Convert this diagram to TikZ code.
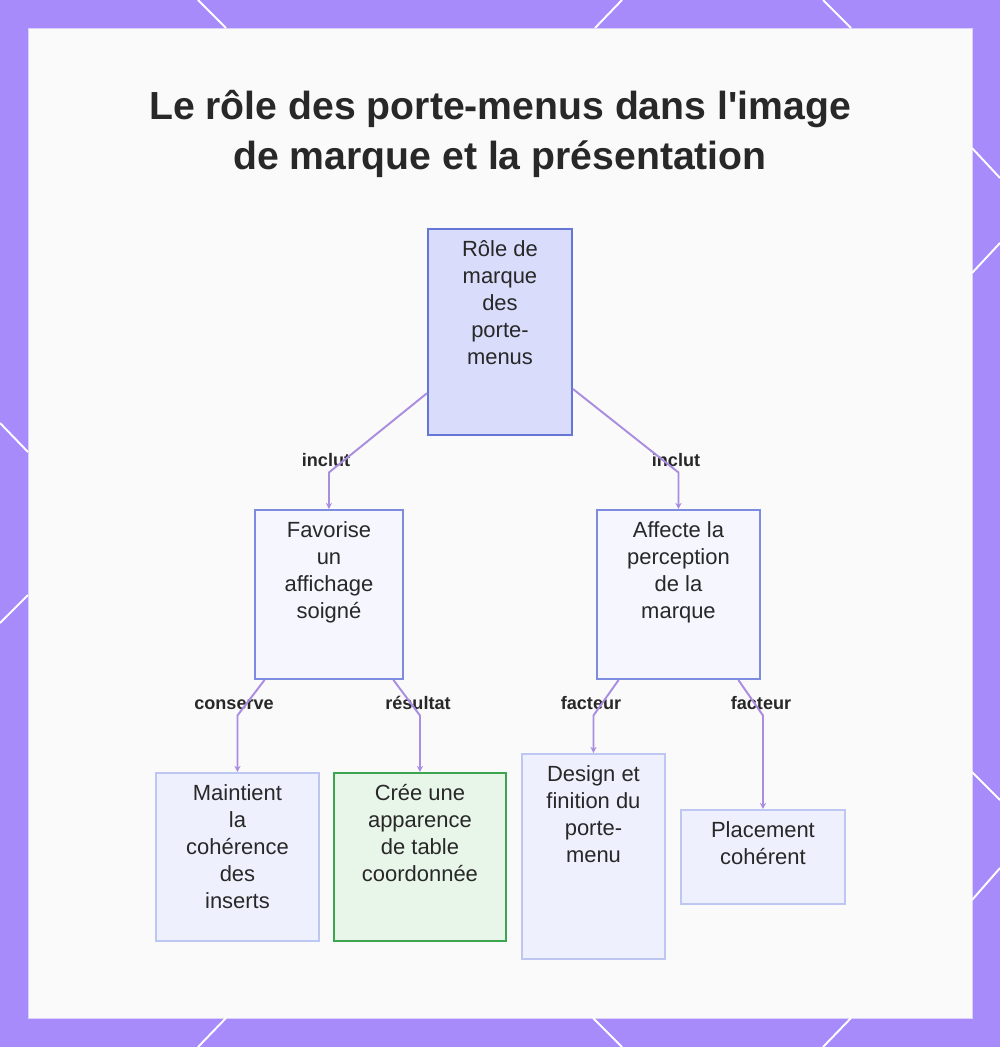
\documentclass[tikz,border=0pt]{standalone}
\usepackage{fontspec}
\setmainfont{Liberation Sans}[Ligatures=TeXOff]
\usepackage{tikz}
\usetikzlibrary{arrows.meta, positioning}

\definecolor{frame}{RGB}{167,139,250}
\definecolor{panel}{RGB}{250,250,250}
\definecolor{ink}{RGB}{40,40,40}
\definecolor{linkcol}{RGB}{170,140,225}
\definecolor{rootfill}{RGB}{217,221,251}
\definecolor{rootdraw}{RGB}{102,118,214}
\definecolor{midfill}{RGB}{245,246,254}
\definecolor{middraw}{RGB}{125,140,225}
\definecolor{leaffill}{RGB}{238,241,253}
\definecolor{leafdraw}{RGB}{190,198,242}
\definecolor{okfill}{RGB}{232,245,233}
\definecolor{okdraw}{RGB}{60,165,80}

\newlength\unitpx
\setlength\unitpx{0.02cm}

\tikzset{
  box/.style={draw, line width=1.1pt, anchor=north west, inner sep=0pt},
  txt/.style={anchor=north, yshift=-12\unitpx, align=center, inner sep=0pt,
    text=ink, font=\fontsize{12.5}{15.4}\selectfont,
    execute at begin node={\rule{0pt}{0.95em}}},
  lbl/.style={inner sep=1pt, text=ink, text height=0.75em, text depth=0.2em,
    font=\fontsize{10.3}{12}\selectfont\bfseries},
  link/.style={draw=linkcol, line width=1.1pt, -{Stealth[length=3.5pt,width=3.5pt]}},
  deco/.style={draw=white, line width=1.1pt},
}

\begin{document}
\begin{tikzpicture}[x=0.02cm, y=-0.02cm]
        \useasboundingbox (0,0) rectangle (1000,1047);
        % frame
        \fill[frame] (0,0) rectangle (1000,1047);
        \filldraw[fill=panel, draw=frame!40, line width=0.5pt] (28,28) rectangle (972,1018);
        \draw[deco] (198,0) -- (226,28);
        \draw[deco] (622,0) -- (595,28);
        \draw[deco] (823,0) -- (851,28);
        \draw[deco] (198,1047) -- (226,1018);
        \draw[deco] (622,1047) -- (593,1018);
        \draw[deco] (823,1047) -- (851,1018);
        \draw[deco] (0,423) -- (28,452);
        \draw[deco] (0,623) -- (28,595);
        \draw[deco] (972,148) -- (1000,178);
        \draw[deco] (972,273) -- (1000,243);
        \draw[deco] (972,772) -- (1000,800);
        \draw[deco] (972,900) -- (1000,868);

        \node[anchor=base, align=center, text=ink, font=\fontsize{22.3}{29}\selectfont\bfseries] (title) at (500,170)
            {Le rôle des porte-menus dans l'image\\de marque et la présentation};

        % boxes
        \node[box, fill=rootfill, draw=rootdraw, minimum width=144\unitpx, minimum height=206\unitpx,
            label={[txt]north:Rôle de\\marque\\des\\porte-\\menus}] (role) at (427,228) {};
        \node[box, fill=midfill, draw=middraw, minimum width=148\unitpx, minimum height=169\unitpx,
            label={[txt]north:Favorise\\un\\affichage\\soigné}] (affichage) at (254,509) {};
        \node[box, fill=midfill, draw=middraw, minimum width=163\unitpx, minimum height=169\unitpx,
            label={[txt]north:Affecte la\\perception\\de la\\marque}] (perception) at (596,509) {};
        \node[box, fill=leaffill, draw=leafdraw, minimum width=163\unitpx, minimum height=168\unitpx,
            label={[txt]north:Maintient\\la\\cohérence\\des\\inserts}] (coherence) at (155,772) {};
        \node[box, fill=okfill, draw=okdraw, minimum width=172\unitpx, minimum height=168\unitpx,
            label={[txt]north:Crée une\\apparence\\de table\\coordonnée}] (apparence) at (333,772) {};
        \node[box, fill=leaffill, draw=leafdraw, minimum width=143\unitpx, minimum height=205\unitpx,
            label={[txt]north:Design et\\finition du\\porte-\\menu}] (design) at (521,753) {};
        \node[box, fill=leaffill, draw=leafdraw, minimum width=164\unitpx, minimum height=94\unitpx,
            label={[txt]north:Placement\\cohérent}] (placement) at (680,809) {};

        % edge labels
        \node[lbl] (inclutA) at (326,462) {inclut};
        \node[lbl] (inclutB) at (676,462) {inclut};
        \node[lbl] (conserve) at (234,705) {conserve};
        \node[lbl] (resultat) at (418,705) {résultat};
        \node[lbl] (facteurA) at (591,705) {facteur};
        \node[lbl] (facteurB) at (761,705) {facteur};

        % connectors
        \draw[link] (role.220) -- (affichage.north |- inclutA.south) -- (affichage);
        \draw[link] (role.322) -- (perception.north |- inclutB.south) -- (perception);
        \draw[link] (affichage.233) -- (coherence.north |- conserve.south) -- (coherence);
        \draw[link] (affichage.307) -- (apparence.north |- resultat.south) -- (apparence);
        \draw[link] (perception.235) -- (design.north |- facteurA.south) -- (design);
        \draw[link] (perception.305) -- (placement.north |- facteurB.south) -- (placement);
    \end{tikzpicture}
\end{document}
